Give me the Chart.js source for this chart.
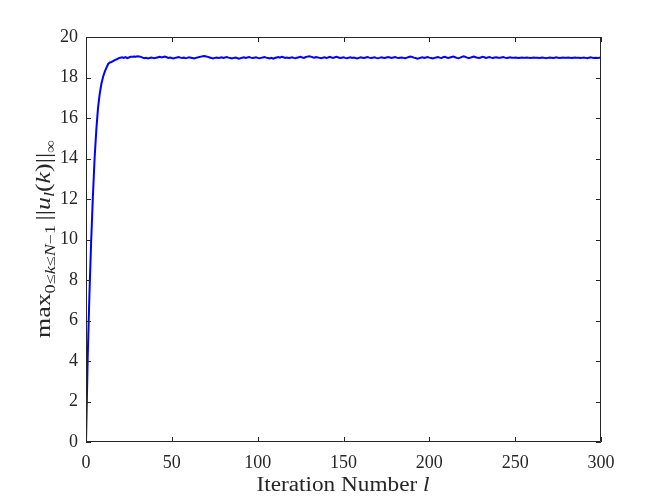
<!DOCTYPE html>
<html>
<head>
<meta charset="utf-8">
<script src="https://cdn.jsdelivr.net/npm/chart.js@4/dist/chart.umd.min.js"></script>
<style>
  html, body { margin: 0; background: #fff; }
</style>
</head>
<body>
<canvas id="chart" width="664" height="498"></canvas>
<script>
// max over k of ||u_l(k)||_inf, one value per iteration l = 0..300
const maxNorm = [
  0, 4.2, 7.3, 9.9, 12.1, 14.0, 15.4, 16.5, 17.2, 17.7,
  18.05, 18.3, 18.5, 18.68, 18.74, 18.77, 18.82, 18.87, 18.9, 18.95,
  18.98, 19.00, 18.97, 19.01, 18.96, 18.99, 19.02, 19.03, 19.04, 19.03,
  19.05, 19.04, 19.02, 18.98, 18.95, 18.97, 18.94, 18.96, 18.99, 18.97,
  18.95, 18.98, 19.00, 19.02, 18.99, 19.01, 19.03, 19.00, 18.97, 18.99,
  18.96, 18.94, 18.97, 18.99, 19.01, 18.98, 18.96, 18.98, 18.95, 18.97,
  19.00, 18.98, 18.96, 18.94, 18.97, 18.99, 19.01, 19.03, 19.05, 19.06,
  19.04, 19.02, 18.99, 18.96, 18.94, 18.97, 18.99, 18.96, 18.98, 19.00,
  18.97, 18.99, 19.01, 18.98, 18.96, 18.94, 18.97, 18.99, 18.96, 18.93,
  18.95, 18.98, 19.00, 18.97, 18.99, 19.01, 18.98, 18.96, 18.98, 19.00,
  18.97, 18.95, 18.97, 18.99, 19.01, 18.98, 18.96, 18.94, 18.97, 18.93,
  18.96, 18.99, 19.01, 18.98, 19.02, 19.00, 18.97, 18.99, 18.96, 18.98,
  19.00, 18.97, 18.95, 18.98, 19.00, 19.02, 18.99, 18.97, 19.01, 19.03,
  19.05, 19.03, 19.00, 18.98, 19.01, 18.99, 18.97, 18.95, 18.98, 19.00,
  18.97, 18.99, 19.02, 18.99, 18.97, 19.00, 19.02, 18.99, 18.96, 18.98,
  19.00, 18.97, 18.95, 18.98, 19.00, 18.97, 18.99, 18.96, 18.94, 18.97,
  19.00, 18.98, 18.96, 18.99, 19.01, 18.98, 18.96, 18.98, 19.00, 18.97,
  18.95, 18.97, 19.00, 18.98, 18.96, 18.99, 19.01, 18.99, 18.97, 18.99,
  19.01, 18.98, 18.96, 18.98, 18.99, 18.97, 18.95, 18.98, 19.01, 19.03,
  19.01, 18.98, 18.96, 18.93, 18.95, 18.98, 19.00, 18.97, 18.99, 19.01,
  18.98, 18.96, 18.94, 18.97, 18.99, 19.01, 18.98, 18.96, 19.00, 19.02,
  18.99, 18.97, 18.99, 19.01, 19.03, 19.00, 18.97, 18.95, 18.98, 19.02,
  19.05, 19.02, 18.98, 18.95, 18.98, 19.01, 19.03, 19.00, 18.97, 18.96,
  18.99, 19.02, 19.00, 18.97, 18.99, 19.01, 18.98, 18.96, 18.99, 19.00,
  18.98, 18.97, 18.99, 19.01, 18.98, 18.96, 18.98, 19.00, 18.98, 18.97,
  18.99, 18.98, 18.96, 18.98, 18.99, 18.97, 18.98, 18.99, 18.97, 18.96,
  18.98, 18.99, 18.97, 18.98, 18.96, 18.98, 18.99, 18.97, 18.95, 18.97,
  18.99, 18.98, 18.96, 18.98, 19.00, 18.97, 18.96, 18.98, 18.99, 18.97,
  18.98, 18.99, 18.97, 18.96, 18.98, 18.99, 18.97, 18.98, 18.96, 18.97,
  18.99, 18.97, 18.95, 18.98, 19.00, 18.97, 18.96, 18.98, 18.96, 18.98,
  18.97
];
const xTickStep = 50;
const yTickStep = 2;
const xRange = [0, 300];
const yRange = [0, 20];

const axisColor = '#262626';
const serif = '"Liberation Serif", "Times New Roman", serif';

const points = maxNorm.map((v, l) => ({ x: l, y: v }));

// MATLAB style box with inward ticks on all four sides, plus the axis labels
const matlabAxes = {
    id: 'matlabAxes',
    afterDraw(chart) {
        const ctx = chart.ctx;
        const { left, right, top, bottom } = chart.chartArea;
        const xs = chart.scales.x, ys = chart.scales.y;
        ctx.save();
        ctx.strokeStyle = axisColor;
        ctx.lineWidth = 1;
        ctx.beginPath();
        ctx.rect(left + 0.5, top + 0.5, right - left - 1, bottom - top - 1);
        xs.ticks.forEach(t => {
            const px = Math.round(xs.getPixelForValue(t.value)) + 0.5;
            ctx.moveTo(px, bottom); ctx.lineTo(px, bottom - 5);
            ctx.moveTo(px, top); ctx.lineTo(px, top + 5);
        });
        ys.ticks.forEach(t => {
            const py = Math.round(ys.getPixelForValue(t.value)) + 0.5;
            ctx.moveTo(left, py); ctx.lineTo(left + 5, py);
            ctx.moveTo(right, py); ctx.lineTo(right - 5, py);
        });
        ctx.stroke();

        ctx.fillStyle = axisColor;
        ctx.textBaseline = 'alphabetic';

        // x label: Iteration Number l
        drawRich(ctx, [
            { t: 'Iteration Number ', size: 20 },
            { t: 'l', size: 20, italic: true }
        ], 343, 491, 0, 173);

        // y label: max_{0<=k<=N-1} ||u_l(k)||_inf
        drawRich(ctx, [
            { t: 'max', size: 20 },
            { t: '0\u2264', size: 14, dy: 5 },
            { t: 'k', size: 14, dy: 5, italic: true },
            { t: '\u2264', size: 14, dy: 5 },
            { t: 'N', size: 14, dy: 5, italic: true },
            { t: '\u22121 ', size: 14, dy: 5 },
            { t: '||', size: 20 },
            { t: 'u', size: 20, italic: true },
            { t: 'l', size: 14, dy: 4, italic: true },
            { t: '(', size: 20 },
            { t: 'k', size: 20, italic: true },
            { t: ')||', size: 20 },
            { t: '\u221e', size: 14, dy: 5 }
        ], 50, 239, -Math.PI / 2, 198);
        ctx.restore();
    }
};

// draws mixed-font text centred on (cx, cy), stretched to a given width
function drawRich(ctx, parts, cx, cy, angle, width) {
    const fontOf = p => `${p.italic ? 'italic ' : ''}${p.size}px ${serif}`;
    let total = 0;
    parts.forEach(p => { ctx.font = fontOf(p); p.w = ctx.measureText(p.t).width; total += p.w; });
    ctx.save();
    ctx.translate(cx, cy);
    ctx.rotate(angle);
    ctx.scale(width / total, 1);
    let x = -total / 2;
    parts.forEach(p => {
        ctx.font = fontOf(p);
        ctx.fillText(p.t, x, p.dy || 0);
        x += p.w;
    });
    ctx.restore();
}

new Chart(document.getElementById('chart'), {
    type: 'line',
    data: {
        datasets: [{
            data: points,
            borderColor: '#0000ff',
            borderWidth: 2,
            pointRadius: 0,
            tension: 0,
            fill: false
        }]
    },
    options: {
        responsive: false,
        animation: false,
        layout: { padding: { left: 0, top: 37, right: 63, bottom: 0 } },
        plugins: { legend: { display: false }, tooltip: { enabled: false } },
        scales: {
            x: {
                type: 'linear',
                min: xRange[0], max: xRange[1],
                grid: { display: false, drawTicks: false },
                border: { display: false },
                ticks: { stepSize: xTickStep, color: axisColor, padding: 10, maxRotation: 0,
                         font: { family: serif, size: 18 } },
                afterFit(scale) { scale.height = 56; }
            },
            y: {
                min: yRange[0], max: yRange[1],
                grid: { display: false, drawTicks: false },
                border: { display: false },
                ticks: { stepSize: yTickStep, color: axisColor, padding: 8,
                         font: { family: serif, size: 18 } },
                afterFit(scale) { scale.width = 86; }
            }
        }
    },
    plugins: [matlabAxes]
});
</script>
</body>
</html>
